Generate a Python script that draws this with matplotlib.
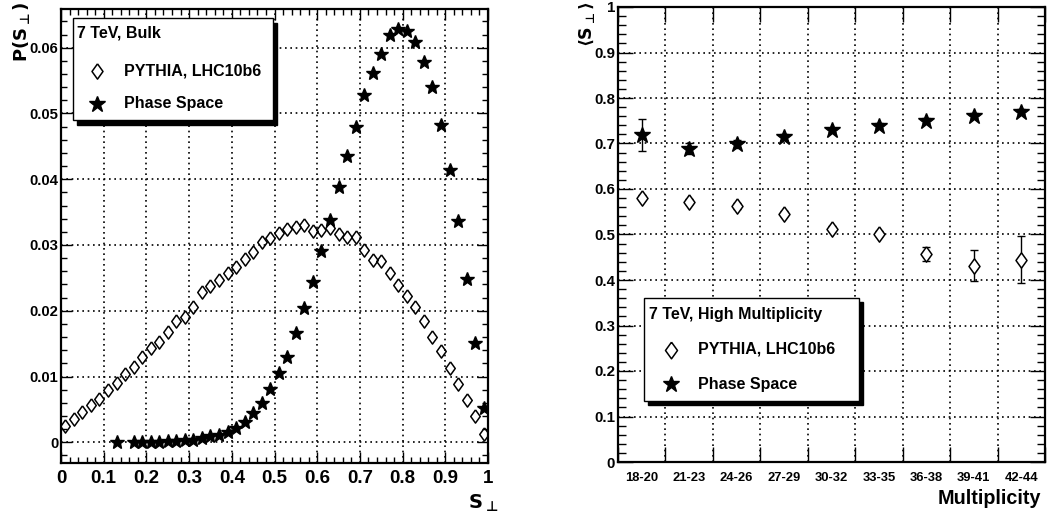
import numpy as np
import matplotlib
matplotlib.use('Agg')
import matplotlib.pyplot as plt
from matplotlib.lines import Line2D
from matplotlib.patches import Rectangle
from matplotlib.ticker import MultipleLocator, FormatStrFormatter

plt.rcParams['font.family'] = ['Liberation Sans', 'DejaVu Sans']
plt.rcParams['font.weight'] = 'bold'
plt.rcParams['mathtext.fontset'] = 'dejavusans'

# ---- bulk S_perp distribution, 50 bins of width 0.02 ----
s_perp_centers = np.round(np.arange(0.01, 1.0, 0.02), 2)

pythia_bulk = [
    0.0025, 0.0035, 0.0046, 0.0057, 0.0066, 0.0080, 0.0090, 0.0104, 0.0115, 0.0130,
    0.0143, 0.0153, 0.0168, 0.0185, 0.0191, 0.0206, 0.0228, 0.0237, 0.0247, 0.0258,
    0.0267, 0.0279, 0.0290, 0.0304, 0.0311, 0.0318, 0.0325, 0.0327, 0.0330, 0.0322,
    0.0323, 0.0326, 0.0317, 0.0312, 0.0312, 0.0293, 0.0277, 0.0275, 0.0257, 0.0239,
    0.0222, 0.0205, 0.0184, 0.0160, 0.0139, 0.0113, 0.0089, 0.0065, 0.0040, 0.0013,
]

nan = np.nan
phase_space_bulk = [
    nan, nan, nan, nan, nan, nan, 0.0000, nan, 0.0000, 0.0001,
    0.0001, 0.0001, 0.0002, 0.0002, 0.0003, 0.0004, 0.0006, 0.0009, 0.0011, 0.0015,
    0.0021, 0.0031, 0.0044, 0.0059, 0.0081, 0.0105, 0.0130, 0.0166, 0.0204, 0.0244,
    0.0291, 0.0338, 0.0388, 0.0436, 0.0480, 0.0528, 0.0562, 0.0591, 0.0619, 0.0628,
    0.0625, 0.0608, 0.0578, 0.0540, 0.0482, 0.0414, 0.0336, 0.0248, 0.0151, 0.0052,
]

# ---- mean S_perp vs multiplicity (high multiplicity) ----
mult_bins = ['18-20', '21-23', '24-26', '27-29', '30-32', '33-35', '36-38', '39-41', '42-44']
pythia_mean = [0.581, 0.572, 0.563, 0.546, 0.513, 0.502, 0.457, 0.431, 0.445]
pythia_err = [0.006, 0.006, 0.006, 0.006, 0.006, 0.006, 0.016, 0.034, 0.051]
phase_mean = [0.719, 0.689, 0.699, 0.714, 0.730, 0.739, 0.750, 0.761, 0.770]
phase_err = [0.035, 0.012, 0.008, 0.006, 0.005, 0.005, 0.005, 0.005, 0.005]

W, H = 1047, 518
diamond = [(0, 1), (0.72, 0), (0, -1), (-0.72, 0), (0, 1)]
grid_style = dict(color='k', linestyle=(0, (1, 2.2)), linewidth=1.2)


def fx(x):
    return x / W


def fy(y):
    return 1 - y / H


def style_frame(ax, major_len, minor_len):
    for sp in ax.spines.values():
        sp.set_linewidth(1.6)
    ax.tick_params(which='both', direction='in', top=True, right=True, width=1, colors='k')
    ax.tick_params(which='major', length=major_len)
    ax.tick_params(which='minor', length=minor_len)
    ax.set_axisbelow(True)


def legend_box(fig, left, top, right, bottom, title, entries, shadow=(4, 5), fs=11.5):
    dx, dy = shadow
    fig.add_artist(Rectangle((fx(left + dx), fy(bottom + dy)), (right - left) / W, (bottom - top) / H,
                             transform=fig.transFigure, facecolor='k', edgecolor='k', zorder=5))
    fig.add_artist(Rectangle((fx(left), fy(bottom)), (right - left) / W, (bottom - top) / H,
                             transform=fig.transFigure, facecolor='white', edgecolor='k',
                             linewidth=1, zorder=6))
    tx, ty = title
    fig.text(fx(tx[0]), fy(tx[1]), ty, ha='left', va='center', fontsize=fs, zorder=7)
    for (mx, my), (tx_, ty_), label, mk in entries:
        fig.add_artist(Line2D([fx(mx)], [fy(my)], transform=fig.transFigure, zorder=7, **mk))
        fig.text(fx(tx_), fy(ty_), label, ha='left', va='center', fontsize=fs, zorder=7)


fig = plt.figure(figsize=(W / 100, H / 100), dpi=100)

# ---------------- left: P(S_perp) ----------------
ax1 = fig.add_axes([fx(61), fy(463), 427 / W, 454 / H])
ax1.plot(s_perp_centers, pythia_bulk, linestyle='none', marker=diamond, ms=9.5,
         mfc='none', mec='k', mew=1.1, zorder=3)
ax1.plot(s_perp_centers, phase_space_bulk, linestyle='none', marker='*', ms=10.5,
         color='k', zorder=4)
ax1.set_xlim(0, 1)
ax1.set_ylim(-0.00315, 0.06588)
ax1.xaxis.set_major_locator(MultipleLocator(0.1))
ax1.xaxis.set_minor_locator(MultipleLocator(0.02))
ax1.yaxis.set_major_locator(MultipleLocator(0.01))
ax1.yaxis.set_minor_locator(MultipleLocator(0.002))
ax1.xaxis.set_major_formatter(FormatStrFormatter('%g'))
ax1.yaxis.set_major_formatter(FormatStrFormatter('%g'))
style_frame(ax1, 8, 4)
ax1.tick_params(axis='x', which='major', labelsize=13.5, pad=5)
ax1.tick_params(axis='y', which='major', labelsize=10.7, pad=2)
ax1.grid(True, which='major', **grid_style)

fig.text(fx(498), fy(503.5), r'$\mathbf{S}_{\bot}$', ha='right', va='center', fontsize=14)
fig.text(fx(21), fy(1), r'$\mathbf{P(S}_{\bot}\mathbf{)}$', ha='center', va='top',
         rotation=90, fontsize=13)

legend_box(fig, 72.5, 18, 273, 120, ((77, 33.5), '7 TeV, Bulk'), [
    ((97, 71), (124, 71), 'PYTHIA, LHC10b6',
     dict(marker=diamond, ms=11, mfc='none', mec='k', mew=1.1, linestyle='none')),
    ((97, 103.5), (124, 103.5), 'Phase Space',
     dict(marker='*', ms=12, color='k', linestyle='none')),
], shadow=(4, 5))

# ---------------- right: <S_perp> vs multiplicity ----------------
ax2 = fig.add_axes([fx(618), fy(462), 427 / W, 455 / H])
xpos = np.arange(len(mult_bins))
ax2.errorbar(xpos, pythia_mean, yerr=pythia_err, fmt='none', ecolor='k', elinewidth=1,
             capsize=3, capthick=1, zorder=3)
ax2.errorbar(xpos, phase_mean, yerr=phase_err, fmt='none', ecolor='k', elinewidth=1,
             capsize=3, capthick=1, zorder=3)
ax2.plot(xpos, pythia_mean, linestyle='none', marker=diamond, ms=11, mfc='white', mec='k',
         mew=1.1, zorder=4)
ax2.plot(xpos, phase_mean, linestyle='none', marker='*', ms=12, color='k', zorder=4)
ax2.set_xlim(-0.5, len(mult_bins) - 0.5)
ax2.set_ylim(0, 1)
ax2.set_xticks(np.arange(-0.5, len(mult_bins), 1.0))
ax2.set_xticklabels([])
ax2.set_xticks(xpos, mult_bins, minor=True)
ax2.yaxis.set_major_locator(MultipleLocator(0.1))
ax2.yaxis.set_minor_locator(MultipleLocator(0.02))
ax2.yaxis.set_major_formatter(FormatStrFormatter('%g'))
style_frame(ax2, 11, 6)
ax2.tick_params(axis='x', which='minor', length=0, labelsize=9.4, pad=7)
ax2.tick_params(axis='y', which='major', labelsize=10.8, pad=2)
ax2.grid(True, which='major', **grid_style)

fig.text(fx(1041), fy(498), 'Multiplicity', ha='right', va='center', fontsize=14.2)
fig.text(fx(587), fy(2), r'$\langle\mathbf{S}_{\bot}\rangle$', ha='center', va='top',
         rotation=90, fontsize=12.5)

legend_box(fig, 643.7, 298.3, 858.7, 401, ((649, 314), '7 TeV, High Multiplicity'), [
    ((671, 349.5), (698, 349.5), 'PYTHIA, LHC10b6',
     dict(marker=diamond, ms=12, mfc='none', mec='k', mew=1.1, linestyle='none')),
    ((671, 384), (698, 384), 'Phase Space',
     dict(marker='*', ms=12, color='k', linestyle='none')),
], shadow=(4, 4))

fig.savefig('out.png', dpi=100)
